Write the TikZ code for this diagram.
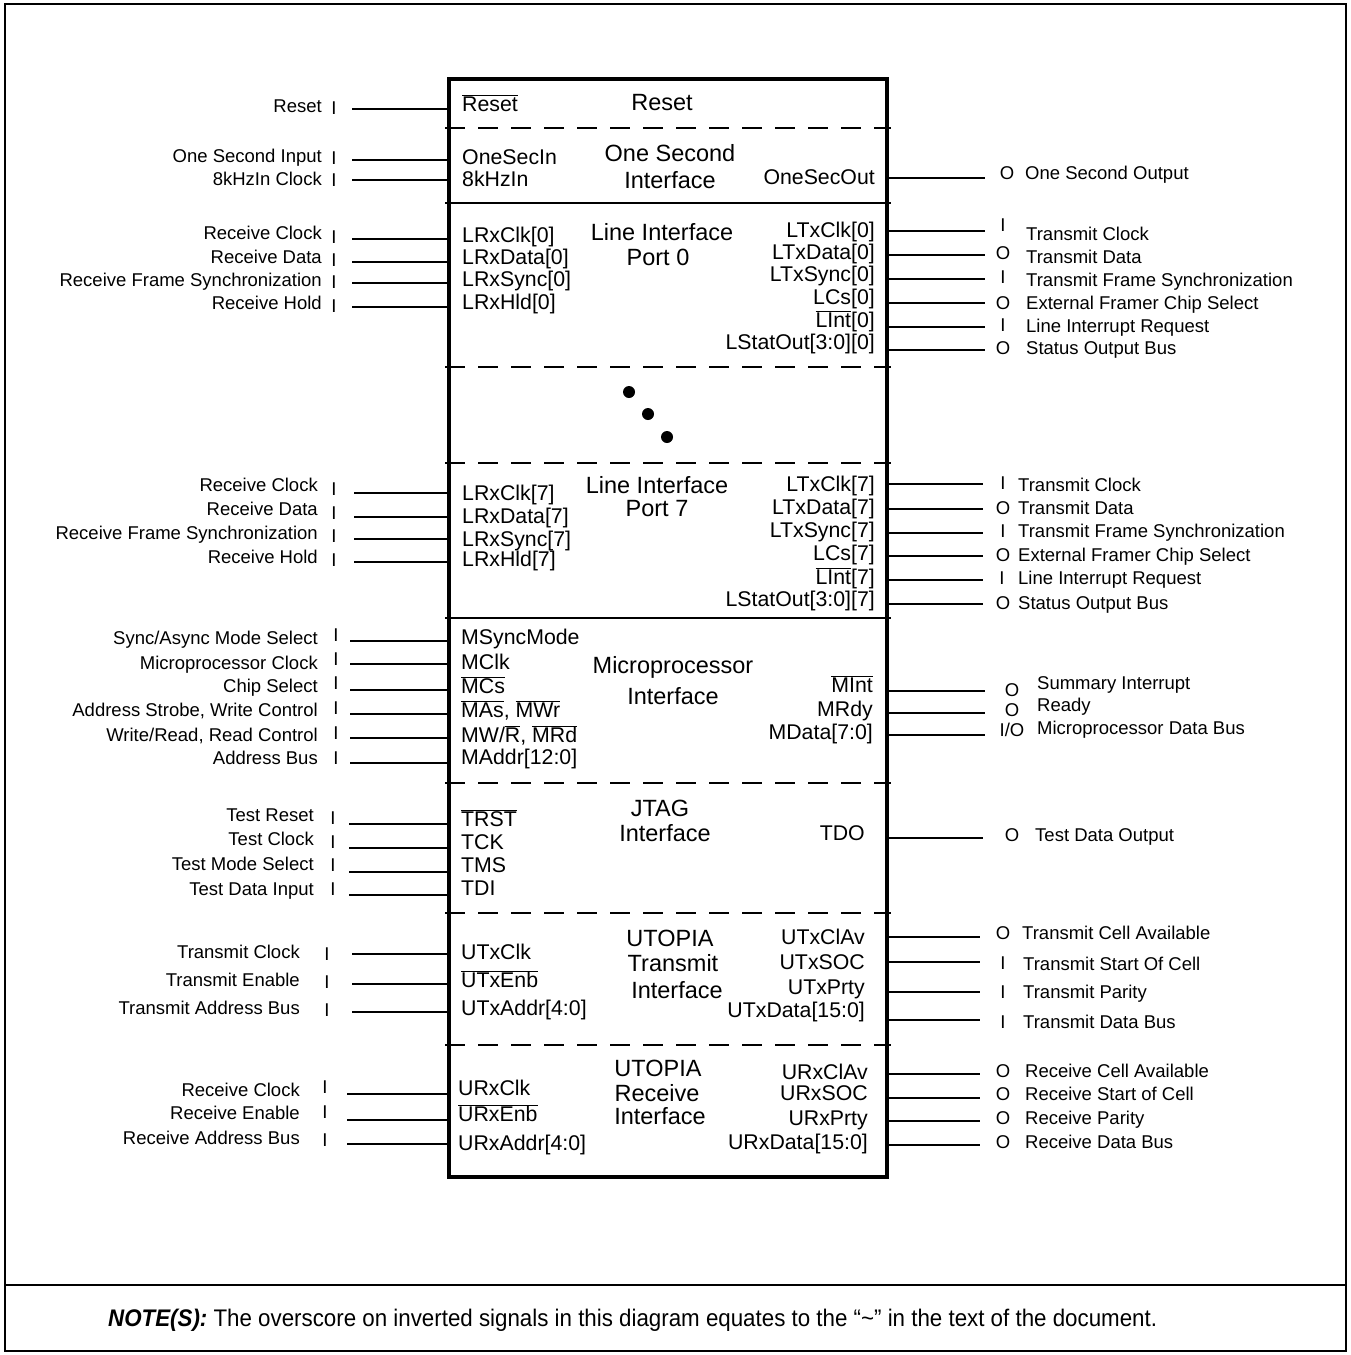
\documentclass[tikz,border=0pt]{standalone}
\usepackage{fontspec}
\setmainfont{Liberation Sans}
\newfontfamily\notefamily[FakeStretch=0.93]{Liberation Sans}
\newcommand\outfont{\fontsize{18.5}{20}\selectfont}
\newcommand\pinfont{\fontsize{21.3}{23}\selectfont}
\newcommand\ttlfont{\fontsize{23.5}{25}\selectfont}
\newcommand\notefont{\notefamily\fontsize{24}{26}\selectfont}
\newcommand\ovl[1]{\ensuremath{\overline{\hbox{#1}}}}
\tikzset{
  outl/.style={font=\outfont, anchor=base east, inner sep=0pt, yshift=-6.6pt},
  outr/.style={font=\outfont, anchor=base west, inner sep=0pt, yshift=-6.6pt},
  mk/.style={font=\outfont, anchor=base, inner sep=0pt, yshift=-6.6pt},
  pinl/.style={font=\pinfont, anchor=base west, inner sep=0pt, yshift=-7.6pt},
  pinr/.style={font=\pinfont, anchor=base east, inner sep=0pt, yshift=-7.6pt},
  ttl/.style={font=\ttlfont, anchor=base, inner sep=0pt, yshift=-8.4pt},
  wire/.style={line width=1.7pt},
  chipbox/.style={line width=3.5pt},
  divdash/.style={line width=2pt, dash pattern=on 20pt off 13pt},
  divsolid/.style={line width=2pt},
  frame/.style={line width=1.5pt},
}
% left row: name, text, text y, line y, marker y, text right x, marker x, wire start x
\newcommand\lrow[8]{%
  \node[outl] (#1t) at (#6,#3) {#2};
  \node[mk] (#1m) at (#7,#5) {I};
  \coordinate (#1a) at (#8,#4);
  \coordinate (#1b) at (449,#4);
  \draw[wire] (#1a) -- (#1b);
}
% right row: name, marker, marker x, marker y, text, text x, text y, line y, wire end x
\newcommand\rrow[9]{%
  \node[mk] (#1m) at (#3,#4) {#2};
  \node[outr] (#1t) at (#6,#7) {#5};
  \coordinate (#1a) at (887,#8);
  \coordinate (#1b) at (#9,#8);
  \draw[wire] (#1a) -- (#1b);
}
\begin{document}
\begin{tikzpicture}[x=1pt,y=-1pt]
\useasboundingbox (0,0) rectangle (1351,1355);
% outer frame
\coordinate (fNW) at (5,4);
\coordinate (fSE) at (1346,1351);
\draw[frame] (fNW) rectangle (fSE);
\coordinate (nL) at (5,1285);
\coordinate (nR) at (1346,1285);
\draw[frame] (nL) -- (nR);

% chip box and dividers
\coordinate (bNW) at (449,79);
\coordinate (bSE) at (887,1177);
\foreach \n/\yy in {d1/128,d3/367,d4/463,d6/783,d7/913,d8/1045}{
  \coordinate (\n a) at (445,\yy);
  \coordinate (\n b) at (891,\yy);
  \draw[divdash] (\n a) -- (\n b);
}
\foreach \n/\yy in {d2/203,d5/618}{
  \coordinate (\n a) at (445,\yy);
  \coordinate (\n b) at (891,\yy);
  \draw[divsolid] (\n a) -- (\n b);
}
\draw[chipbox] (bNW) rectangle (bSE);

% dots
\foreach \n/\xx/\yy in {dotA/629/392,dotB/648/414,dotC/667/437}{
  \coordinate (\n) at (\xx,\yy);
  \fill (\n) circle (6pt);
}

% section titles
\node[ttl] (tReset) at (662,102) {Reset};
\node[ttl] (tOS1) at (670,153) {One Second};
\node[ttl] (tOS2) at (670,180) {Interface};
\node[ttl] (tL01) at (662,232) {Line Interface};
\node[ttl] (tL02) at (658,257) {Port 0};
\node[ttl] (tL71) at (657,485) {Line Interface};
\node[ttl] (tL72) at (657,508) {Port 7};
\node[ttl] (tMP1) at (673,665) {Microprocessor};
\node[ttl] (tMP2) at (673,696) {Interface};
\node[ttl] (tJT1) at (660,808) {JTAG};
\node[ttl] (tJT2) at (665,833) {Interface};
\node[ttl] (tUT1) at (670,938) {UTOPIA};
\node[ttl] (tUT2) at (673,963) {Transmit};
\node[ttl] (tUT3) at (677,990) {Interface};
\node[ttl] (tUR1) at (658,1068) {UTOPIA};
\node[ttl] (tUR2) at (657,1093) {Receive};
\node[ttl] (tUR3) at (660,1116) {Interface};

% inner pin names, left
\node[pinl] (iReset) at (462,104) {\ovl{Reset}};
\node[pinl] (iOSI) at (462,157) {OneSecIn};
\node[pinl] (i8k) at (462,179) {8kHzIn};
\node[pinl] (iL0a) at (462,235) {LRxClk[0]};
\node[pinl] (iL0b) at (462,257) {LRxData[0]};
\node[pinl] (iL0c) at (462,279) {LRxSync[0]};
\node[pinl] (iL0d) at (462,302) {LRxHld[0]};
\node[pinl] (iL7a) at (462,493) {LRxClk[7]};
\node[pinl] (iL7b) at (462,516) {LRxData[7]};
\node[pinl] (iL7c) at (462,539) {LRxSync[7]};
\node[pinl] (iL7d) at (462,559) {LRxHld[7]};
\node[pinl] (iM1) at (461,637) {MSyncMode};
\node[pinl] (iM2) at (461,662) {MClk};
\node[pinl] (iM3) at (461,686) {\ovl{MCs}};
\node[pinl] (iM4) at (461,710) {\ovl{MAs}, \ovl{MWr}};
\node[pinl] (iM5) at (461,735) {MW/\ovl{R}, \ovl{MRd}};
\node[pinl] (iM6) at (461,757) {MAddr[12:0]};
\node[pinl] (iJ1) at (461,819) {\ovl{TRST}};
\node[pinl] (iJ2) at (461,842) {TCK};
\node[pinl] (iJ3) at (461,865) {TMS};
\node[pinl] (iJ4) at (461,888) {TDI};
\node[pinl] (iT1) at (461,952) {UTxClk};
\node[pinl] (iT2) at (461,980) {\ovl{UTxEnb}};
\node[pinl] (iT3) at (461,1008) {UTxAddr[4:0]};
\node[pinl] (iR1) at (458,1088) {URxClk};
\node[pinl] (iR2) at (458,1114) {\ovl{URxEnb}};
\node[pinl] (iR3) at (458,1143) {URxAddr[4:0]};

% inner pin names, right
\node[pinr] (oOSO) at (875,177) {OneSecOut};
\node[pinr] (oL0a) at (875,230) {LTxClk[0]};
\node[pinr] (oL0b) at (875,252) {LTxData[0]};
\node[pinr] (oL0c) at (875,274) {LTxSync[0]};
\node[pinr] (oL0d) at (875,297) {LCs[0]};
\node[pinr] (oL0e) at (875,320) {\ovl{LInt}[0]};
\node[pinr] (oL0f) at (875,342) {LStatOut[3:0][0]};
\node[pinr] (oL7a) at (875,484) {LTxClk[7]};
\node[pinr] (oL7b) at (875,507) {LTxData[7]};
\node[pinr] (oL7c) at (875,530) {LTxSync[7]};
\node[pinr] (oL7d) at (875,553) {LCs[7]};
\node[pinr] (oL7e) at (875,577) {\ovl{LInt}[7]};
\node[pinr] (oL7f) at (875,599) {LStatOut[3:0][7]};
\node[pinr] (oM1) at (873,685) {\ovl{MInt}};
\node[pinr] (oM2) at (873,709) {MRdy};
\node[pinr] (oM3) at (873,732) {MData[7:0]};
\node[pinr] (oTDO) at (865,833) {TDO};
\node[pinr] (oT1) at (865,937) {UTxClAv};
\node[pinr] (oT2) at (865,962) {UTxSOC};
\node[pinr] (oT3) at (865,987) {UTxPrty};
\node[pinr] (oT4) at (865,1010) {UTxData[15:0]};
\node[pinr] (oR1) at (868,1072) {URxClAv};
\node[pinr] (oR2) at (868,1093) {URxSOC};
\node[pinr] (oR3) at (868,1118) {URxPrty};
\node[pinr] (oR4) at (868,1142) {URxData[15:0]};

% left external signals
\lrow{r1}{Reset}{106}{109}{108}{322}{334}{352}
\lrow{r2}{One Second Input}{156}{160}{158}{322}{334}{352}
\lrow{r3}{8kHzIn Clock}{179}{180}{180}{322}{334}{352}
\lrow{r4}{Receive Clock}{233}{239}{237}{322}{334}{352}
\lrow{r5}{Receive Data}{257}{262}{260}{322}{334}{352}
\lrow{r6}{Receive Frame Synchronization}{280}{283}{282}{322}{334}{352}
\lrow{r7}{Receive Hold}{303}{307}{306}{322}{334}{352}
\lrow{p1}{Receive Clock}{485}{493}{489}{318}{334}{354}
\lrow{p2}{Receive Data}{509}{517}{513}{318}{334}{354}
\lrow{p3}{Receive Frame Synchronization}{533}{539}{536}{318}{334}{354}
\lrow{p4}{Receive Hold}{557}{562}{560}{318}{334}{354}
\lrow{m1}{Sync/Async Mode Select}{638}{641}{635}{318}{336}{350}
\lrow{m2}{Microprocessor Clock}{663}{664}{659}{318}{336}{350}
\lrow{m3}{Chip Select}{686}{690}{683}{318}{336}{350}
\lrow{m4}{Address Strobe, Write Control}{710}{714}{708}{318}{336}{350}
\lrow{m5}{Write/Read, Read Control}{735}{738}{733}{318}{336}{350}
\lrow{m6}{Address Bus}{758}{763}{758}{318}{336}{350}
\lrow{j1}{Test Reset}{815}{824}{818}{314}{333}{349}
\lrow{j2}{Test Clock}{839}{848}{842}{314}{333}{349}
\lrow{j3}{Test Mode Select}{864}{872}{865}{314}{333}{349}
\lrow{j4}{Test Data Input}{889}{895}{889}{314}{333}{349}
\lrow{t1}{Transmit Clock}{952}{954}{954}{300}{327}{352}
\lrow{t2}{Transmit Enable}{980}{984}{982}{300}{327}{352}
\lrow{t3}{Transmit Address Bus}{1008}{1012}{1010}{300}{327}{352}
\lrow{u1}{Receive Clock}{1090}{1094}{1087}{300}{325}{347}
\lrow{u2}{Receive Enable}{1113}{1120}{1112}{300}{325}{347}
\lrow{u3}{Receive Address Bus}{1138}{1144}{1140}{300}{325}{347}

% right external signals
\rrow{o1}{O}{1007}{173}{One Second Output}{1025}{173}{178}{985}
\rrow{a1}{I}{1003}{225}{Transmit Clock}{1026}{234}{231}{985}
\rrow{a2}{O}{1003}{253}{Transmit Data}{1026}{257}{255}{985}
\rrow{a3}{I}{1003}{277}{Transmit Frame Synchronization}{1026}{280}{279}{985}
\rrow{a4}{O}{1003}{303}{External Framer Chip Select}{1026}{303}{303}{985}
\rrow{a5}{I}{1003}{325}{Line Interrupt Request}{1026}{326}{327}{985}
\rrow{a6}{O}{1003}{348}{Status Output Bus}{1026}{348}{350}{985}
\rrow{b1}{I}{1003}{483}{Transmit Clock}{1018}{485}{484}{983}
\rrow{b2}{O}{1003}{508}{Transmit Data}{1018}{508}{509}{983}
\rrow{b3}{I}{1003}{531}{Transmit Frame Synchronization}{1018}{531}{533}{983}
\rrow{b4}{O}{1003}{555}{External Framer Chip Select}{1018}{555}{556}{983}
\rrow{b5}{I}{1002}{578}{Line Interrupt Request}{1018}{578}{580}{983}
\rrow{b6}{O}{1003}{603}{Status Output Bus}{1018}{603}{604}{983}
\rrow{c1}{O}{1012}{690}{Summary Interrupt}{1037}{683}{691}{985}
\rrow{c2}{O}{1012}{710}{Ready}{1037}{705}{713}{985}
\rrow{c3}{I/O}{1012}{730}{Microprocessor Data Bus}{1037}{728}{735}{985}
\rrow{d1}{O}{1012}{835}{Test Data Output}{1035}{835}{838}{983}
\rrow{e1}{O}{1003}{933}{Transmit Cell Available}{1022}{933}{937}{980}
\rrow{e2}{I}{1003}{963}{Transmit Start Of Cell}{1023}{964}{962}{980}
\rrow{e3}{I}{1003}{992}{Transmit Parity}{1023}{992}{992}{980}
\rrow{e4}{I}{1003}{1022}{Transmit Data Bus}{1023}{1022}{1020}{980}
\rrow{f1}{O}{1003}{1071}{Receive Cell Available}{1025}{1071}{1074}{980}
\rrow{f2}{O}{1003}{1094}{Receive Start of Cell}{1025}{1094}{1098}{980}
\rrow{f3}{O}{1003}{1118}{Receive Parity}{1025}{1118}{1121}{980}
\rrow{f4}{O}{1003}{1142}{Receive Data Bus}{1025}{1142}{1145}{980}

% note
\node[font=\notefont, anchor=base west, inner sep=0pt] (note) at (108,1326)
  {\textbf{\textit{NOTE(S):}} The overscore on inverted signals in this diagram equates to the “\textasciitilde” in the text of the document.};
\end{tikzpicture}
\end{document}
